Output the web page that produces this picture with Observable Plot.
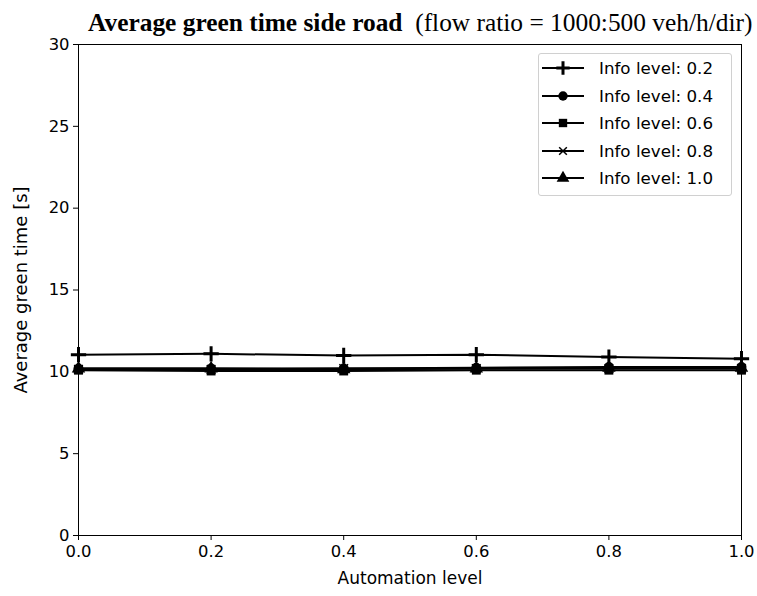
<!DOCTYPE html>
<html>
<head>
<meta charset="utf-8">
<script src="https://cdn.jsdelivr.net/npm/d3@7"></script>
<script src="https://cdn.jsdelivr.net/npm/@observablehq/plot@0.6"></script>
<style>
  body { margin: 0; background: white; }
  #wrap { position: relative; width: 757px; height: 596px; }
  #title { position: absolute; left: 88px; top: 8px; font-family: "Liberation Serif", serif; font-size: 25.4px; white-space: nowrap; color: #000; }
  #title b { font-weight: bold; }
  #legend { position: absolute; left: 538px; top: 53px; width: 194px; height: 143px; border: 1px solid #d0d0d0; border-radius: 3px; background: rgba(255,255,255,0.8); box-sizing: border-box; font-family: "DejaVu Sans", sans-serif; font-size: 16.7px; }
  .plot text { font-family: "DejaVu Sans", sans-serif; }
</style>
</head>
<body>
<div id="wrap">
  <div id="chart"></div>
  <div id="title"><b>Average green time side road</b>&nbsp;&nbsp;(flow ratio = 1000:500 veh/h/dir)</div>
  <div id="legend"></div>
</div>
<script>
const automation = [0.0, 0.2, 0.4, 0.6, 0.8, 1.0];
const seriesNames = ["Info level: 0.2", "Info level: 0.4", "Info level: 0.6", "Info level: 0.8", "Info level: 1.0"];
const seriesSymbols = ["plus", "circle", "square", "times", "triangle"];
const info02 = [11.05, 11.1, 11.0, 11.05, 10.9, 10.8];
const info04 = [10.2, 10.2, 10.2, 10.25, 10.3, 10.3];
const info06 = [10.1, 10.05, 10.05, 10.1, 10.1, 10.1];
const info08 = [10.15, 10.15, 10.2, 10.2, 10.2, 10.2];
const info10 = [10.2, 10.2, 10.15, 10.2, 10.25, 10.25];
const xTicks = [0, 0.2, 0.4, 0.6, 0.8, 1.0];
const yTicks = [0, 5, 10, 15, 20, 25, 30];

const allSeries = [info02, info04, info06, info08, info10];
const data = [];
allSeries.forEach((vals, i) => vals.forEach((v, j) => data.push({x: automation[j], y: v, s: seriesNames[i], sym: seriesSymbols[i]})));

const marks = [
  Plot.frame({stroke: "black", strokeWidth: 1}),
  Plot.axisX({ticks: xTicks, tickFormat: d3.format(".1f"), tickSize: 5, tickPadding: 5, fontSize: 16.4, label: null}),
  Plot.axisX({ticks: [], tickSize: 0, fontSize: 17, label: "Automation level", labelAnchor: "center", labelOffset: 48, labelArrow: "none"}),
  Plot.axisY({ticks: yTicks, tickSize: 5, tickPadding: 4, fontSize: 16.4, label: null}),
  Plot.axisY({ticks: [], tickSize: 0, fontSize: 18, label: "Average green time [s]", labelAnchor: "center", labelOffset: 64, labelArrow: "none"})
];
seriesNames.forEach((name, i) => {
  const d = data.filter(r => r.s === name);
  marks.push(Plot.line(d, {x: "x", y: "y", stroke: "black", strokeWidth: 2}));
  const sym = seriesSymbols[i];
  if (sym === "plus") {
    marks.push(Plot.dot(d, {x: "x", y: "y", symbol: "plus", r: 5, stroke: "black", strokeWidth: 3}));
  } else if (sym === "times") {
    marks.push(Plot.dot(d, {x: "x", y: "y", symbol: "times", r: 4, stroke: "black", strokeWidth: 1.5}));
  } else {
    marks.push(Plot.dot(d, {x: "x", y: "y", symbol: sym, r: 5, fill: "black", stroke: "none"}));
  }
});

const chart = Plot.plot({
  width: 757, height: 596,
  marginLeft: 78, marginRight: 16, marginTop: 44, marginBottom: 61,
  x: {domain: [0, 1]},
  y: {domain: [0, 30]},
  style: {fontFamily: "DejaVu Sans, sans-serif", fontSize: "16px", color: "black", background: "white"},
  marks
});
document.getElementById("chart").appendChild(chart);

// legend
const leg = d3.select("#legend");
const symMap = {plus: d3.symbolPlus, circle: d3.symbolCircle, square: d3.symbolSquare, times: d3.symbolTimes, triangle: d3.symbolTriangle};
seriesNames.forEach((name, i) => {
  const row = leg.append("div").style("position", "absolute").style("left", "3px").style("top", (i * 27.5 + 2) + "px").style("height", "24px").style("display", "flex").style("align-items", "center");
  const svg = row.append("svg").attr("width", 42).attr("height", 24);
  svg.append("line").attr("x1", 0).attr("x2", 42).attr("y1", 12).attr("y2", 12).attr("stroke", "black").attr("stroke-width", 2);
  const sym = seriesSymbols[i];
  if (sym === "plus") {
    svg.append("path").attr("d", d3.symbol(d3.symbolPlus, 60)()).attr("transform", "translate(21,12)").attr("fill", "none").attr("stroke", "black").attr("stroke-width", 3);
  } else if (sym === "times") {
    svg.append("path").attr("d", d3.symbol(d3.symbolTimes, 40)()).attr("transform", "translate(21,12)").attr("fill", "none").attr("stroke", "black").attr("stroke-width", 1.5);
  } else {
    svg.append("path").attr("d", d3.symbol(symMap[sym], 70)()).attr("transform", "translate(21,12)").attr("fill", "black");
  }
  row.append("span").style("margin-left", "15px").text(name);
});
</script>
</body>
</html>
